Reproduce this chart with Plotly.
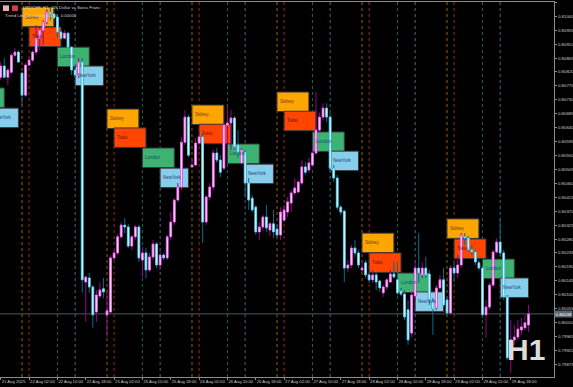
import plotly.graph_objects as go
import pandas as pd

# ---------------- data ----------------
day_spans = [("2025-08-21", 18), ("2025-08-22", 0), ("2025-08-25", 0), ("2025-08-26", 0),
             ("2025-08-27", 0), ("2025-08-28", 0), ("2025-08-29", 0)]

opens = [
    0.80803, 0.80839, 0.80803, 0.80819, 0.80874, 0.80884, 0.80816, 0.80745, 0.80842, 0.80858,
    0.80884, 0.80929, 0.80955, 0.80981, 0.81013, 0.81007, 0.80997, 0.80949, 0.80929, 0.80945,
    0.80900, 0.80826, 0.80807, 0.80852, 0.80141, 0.80154, 0.80125, 0.80044, 0.80096, 0.80119,
    0.80035, 0.80044, 0.80219, 0.80235, 0.80287, 0.80325, 0.80319, 0.80257, 0.80287, 0.80319,
    0.80212, 0.80235, 0.80180, 0.80222, 0.80264, 0.80196, 0.80228, 0.80219, 0.80287, 0.80335,
    0.80406, 0.80448, 0.80593, 0.80674, 0.80513, 0.80519, 0.80590, 0.80610, 0.80335, 0.80416,
    0.80448, 0.80558, 0.80535, 0.80509, 0.80648, 0.80655, 0.80671, 0.80584, 0.80526, 0.80561,
    0.80461, 0.80412, 0.80383, 0.80303, 0.80319, 0.80351, 0.80309, 0.80329, 0.80312, 0.80293,
    0.80341, 0.80367, 0.80396, 0.80429, 0.80432, 0.80461, 0.80513, 0.80503, 0.80519, 0.80558,
    0.80632, 0.80674, 0.80703, 0.80674, 0.80509, 0.80477, 0.80383, 0.80370, 0.80186, 0.80196,
    0.80251, 0.80235, 0.80180, 0.80203, 0.80164, 0.80148, 0.80164, 0.80144, 0.80106, 0.80125,
    0.80141, 0.80167, 0.80148, 0.80112, 0.80102, 0.80051, 0.79976, 0.80096, 0.80186, 0.80164,
    0.80186, 0.80167, 0.80077, 0.80057, 0.80122, 0.80148, 0.80083, 0.80041, 0.80186, 0.80170,
    0.80196, 0.80287, 0.80283, 0.80245, 0.80238, 0.80203, 0.80186, 0.80035, 0.80060, 0.80131,
    0.80238, 0.80270, 0.80235, 0.80093, 0.79896, 0.79954, 0.79963, 0.79986, 0.79993, 0.80002,
]
highs = [
    0.80852, 0.80865, 0.80832, 0.80881, 0.80897, 0.80890, 0.80819, 0.80849, 0.80865, 0.80890,
    0.80971, 0.80968, 0.80987, 0.81023, 0.81029, 0.81026, 0.81004, 0.80955, 0.80955, 0.80949,
    0.80903, 0.80845, 0.80865, 0.80865, 0.80161, 0.80170, 0.80131, 0.80115, 0.80141, 0.80154,
    0.80106, 0.80228, 0.80245, 0.80296, 0.80335, 0.80348, 0.80329, 0.80293, 0.80325, 0.80325,
    0.80254, 0.80251, 0.80235, 0.80277, 0.80270, 0.80245, 0.80235, 0.80293, 0.80367, 0.80412,
    0.80461, 0.80610, 0.80697, 0.80681, 0.80535, 0.80606, 0.80616, 0.80622, 0.80422, 0.80461,
    0.80568, 0.80574, 0.80551, 0.80655, 0.80713, 0.80697, 0.80677, 0.80632, 0.80574, 0.80568,
    0.80477, 0.80422, 0.80390, 0.80335, 0.80358, 0.80390, 0.80335, 0.80374, 0.80325, 0.80383,
    0.80390, 0.80416, 0.80438, 0.80477, 0.80471, 0.80535, 0.80529, 0.80542, 0.80584, 0.80755,
    0.80687, 0.80719, 0.80719, 0.80687, 0.80519, 0.80487, 0.80390, 0.80374, 0.80212, 0.80261,
    0.80277, 0.80245, 0.80206, 0.80212, 0.80170, 0.80180, 0.80173, 0.80148, 0.80131, 0.80154,
    0.80180, 0.80206, 0.80206, 0.80122, 0.80115, 0.80083, 0.80109, 0.80206, 0.80299, 0.80206,
    0.80222, 0.80180, 0.80089, 0.80131, 0.80164, 0.80186, 0.80089, 0.80196, 0.80206, 0.80228,
    0.80299, 0.80299, 0.80290, 0.80261, 0.80245, 0.80212, 0.80196, 0.80083, 0.80138, 0.80245,
    0.80283, 0.80348, 0.80245, 0.80099, 0.80018, 0.80002, 0.80018, 0.80025, 0.80035, 0.80067,
]
lows = [
    0.80794, 0.80800, 0.80777, 0.80813, 0.80868, 0.80849, 0.80710, 0.80739, 0.80839, 0.80852,
    0.80874, 0.80890, 0.80907, 0.80974, 0.80987, 0.80981, 0.80932, 0.80923, 0.80926, 0.80897,
    0.80810, 0.80800, 0.80800, 0.80106, 0.80012, 0.80106, 0.79993, 0.80012, 0.80089, 0.80089,
    0.79963, 0.80041, 0.80212, 0.80228, 0.80283, 0.80299, 0.80251, 0.80245, 0.80277, 0.80206,
    0.80157, 0.80154, 0.80173, 0.80212, 0.80186, 0.80180, 0.80212, 0.80212, 0.80277, 0.80325,
    0.80400, 0.80438, 0.80584, 0.80545, 0.80509, 0.80516, 0.80584, 0.80267, 0.80325, 0.80406,
    0.80438, 0.80526, 0.80480, 0.80503, 0.80584, 0.80568, 0.80568, 0.80542, 0.80519, 0.80416,
    0.80374, 0.80367, 0.80293, 0.80277, 0.80309, 0.80303, 0.80290, 0.80283, 0.80287, 0.80277,
    0.80335, 0.80351, 0.80367, 0.80422, 0.80429, 0.80454, 0.80487, 0.80493, 0.80516, 0.80551,
    0.80626, 0.80664, 0.80658, 0.80496, 0.80464, 0.80374, 0.80358, 0.80141, 0.80173, 0.80186,
    0.80222, 0.80186, 0.80173, 0.80154, 0.80138, 0.80138, 0.80115, 0.80109, 0.80093, 0.80115,
    0.80138, 0.80154, 0.80099, 0.80096, 0.80018, 0.79938, 0.79963, 0.80083, 0.80138, 0.80154,
    0.80154, 0.80067, 0.79970, 0.80051, 0.80115, 0.80060, 0.80035, 0.80035, 0.80141, 0.80154,
    0.80186, 0.80261, 0.80238, 0.80228, 0.80196, 0.80180, 0.80025, 0.79960, 0.80051, 0.80125,
    0.80232, 0.80225, 0.80083, 0.79889, 0.79847, 0.79938, 0.79954, 0.79970, 0.79986, 0.79980,
]
closes = [
    0.80839, 0.80803, 0.80826, 0.80874, 0.80884, 0.80852, 0.80745, 0.80842, 0.80858, 0.80884,
    0.80929, 0.80955, 0.80981, 0.81013, 0.81007, 0.80994, 0.80949, 0.80929, 0.80945, 0.80900,
    0.80826, 0.80810, 0.80852, 0.80148, 0.80157, 0.80125, 0.80035, 0.80099, 0.80115, 0.80109,
    0.80048, 0.80219, 0.80235, 0.80287, 0.80325, 0.80319, 0.80257, 0.80287, 0.80319, 0.80219,
    0.80235, 0.80180, 0.80222, 0.80264, 0.80196, 0.80228, 0.80219, 0.80287, 0.80335, 0.80406,
    0.80448, 0.80593, 0.80674, 0.80551, 0.80519, 0.80590, 0.80610, 0.80335, 0.80416, 0.80448,
    0.80558, 0.80535, 0.80496, 0.80648, 0.80655, 0.80671, 0.80577, 0.80558, 0.80568, 0.80461,
    0.80406, 0.80374, 0.80303, 0.80319, 0.80351, 0.80316, 0.80329, 0.80303, 0.80293, 0.80367,
    0.80374, 0.80400, 0.80429, 0.80445, 0.80464, 0.80513, 0.80496, 0.80526, 0.80558, 0.80632,
    0.80674, 0.80703, 0.80674, 0.80509, 0.80477, 0.80383, 0.80367, 0.80186, 0.80196, 0.80251,
    0.80235, 0.80196, 0.80186, 0.80164, 0.80148, 0.80164, 0.80141, 0.80122, 0.80125, 0.80148,
    0.80167, 0.80157, 0.80106, 0.80102, 0.80028, 0.79954, 0.80099, 0.80186, 0.80170, 0.80186,
    0.80164, 0.80083, 0.80054, 0.80122, 0.80148, 0.80067, 0.80041, 0.80186, 0.80170, 0.80196,
    0.80293, 0.80283, 0.80245, 0.80238, 0.80206, 0.80186, 0.80035, 0.80060, 0.80131, 0.80238,
    0.80270, 0.80235, 0.80093, 0.79896, 0.79954, 0.79963, 0.79989, 0.79996, 0.80009, 0.80038,
]

# session boxes (price of the top edge of each label box, per trading day)
box_days = ["2025-08-21", "2025-08-22", "2025-08-25", "2025-08-26", "2025-08-27", "2025-08-28", "2025-08-29"]
sidney_top = [None, 0.81029, 0.80700, 0.80713, 0.80755, 0.80299, 0.80345]
tokio_top = [None, 0.80965, 0.80639, 0.80651, 0.80693, 0.80235, 0.80280]
london_top = [0.80768, 0.80900, 0.80574, 0.80587, 0.80626, 0.80170, 0.80215]
newyork_top = [0.80703, 0.80839, 0.80509, 0.80522, 0.80564, 0.80109, 0.80154]
box_depth = 0.00063

session_names = ["Sidney", "Tokio", "London", "NewYork"]
session_start_hour = [0, 2, 10, 15]
session_hours = [9, 9, 9, 8]

price_ticks = [0.79875, 0.79920, 0.79965, 0.80010, 0.80055, 0.80100, 0.80145, 0.80190, 0.80235,
               0.80280, 0.80325, 0.80370, 0.80415, 0.80460, 0.80505, 0.80550, 0.80595, 0.80640,
               0.80685, 0.80730, 0.80775, 0.80820, 0.80865, 0.80910, 0.80955, 0.81000, 0.81045]

symbol_title = "USDCHF, H1:  US Dollar vs Swiss Franc"
indicator_title = "Trend Line(Breakout) v1.00   0.00000"
timeframe = "H1"

# ---------------- build ----------------
X_RANGE = [-0.21, 156.2]
Y_RANGE = [0.79834, 0.81046]

times = []
for d, h0 in day_spans:
    for h in range(h0, 24):
        times.append(pd.Timestamp(d) + pd.Timedelta(hours=h))
idx = list(range(len(times)))

day_zero = {}
for d, h0 in day_spans:
    first = times.index(pd.Timestamp(d) + pd.Timedelta(hours=h0))
    day_zero[d] = first - h0

tick_idx, tick_txt = [], []
for i, t in enumerate(times):
    if i == 0:
        tick_idx.append(i); tick_txt.append(t.strftime("%d Aug %Y"))
    elif t.hour in (2, 10, 18):
        tick_idx.append(i); tick_txt.append(t.strftime("%d Aug %H:%M"))

fig = go.Figure()

FONT = "Liberation Sans"
box_fill = ["#FFA500", "#FF4500", "#3CB371", "#87CEEB"]
box_text = ["#6b3a10", "#6a1030", "#154a6a", "#1c3f7a"]
line_col = ["rgba(200,130,20,0.75)", "rgba(200,60,20,0.75)", "rgba(46,139,87,0.75)", "rgba(95,143,160,0.75)"]
tops = [sidney_top, tokio_top, london_top, newyork_top]

shapes = []
annotations = []
for di, d in enumerate(box_days):
    z = day_zero[d]
    for s in range(4):
        top = tops[s][di]
        if top is None:
            continue
        x0 = z + session_start_hour[s]
        x1 = x0 + session_hours[s]
        shapes.append(dict(type="line", xref="x", yref="paper", x0=x0, x1=x0, y0=0, y1=1,
                           line=dict(color=line_col[s], width=1, dash="dot"), layer="below"))
        shapes.append(dict(type="rect", xref="x", yref="y", x0=x0, x1=x1, y0=top - box_depth, y1=top,
                           fillcolor=box_fill[s], line=dict(color="#3a3a3a", width=1), layer="below"))
        lx = x0 + 0.3
        if x1 - X_RANGE[0] < 3:
            continue  # box label lies entirely left of the visible area
        if lx >= X_RANGE[0]:
            ax = dict(x=lx, xref="x")
        else:  # label of a box that starts left of the visible range: place in paper coords
            ax = dict(x=(lx - X_RANGE[0]) / (X_RANGE[1] - X_RANGE[0]), xref="paper")
        annotations.append(dict(**ax, y=top - box_depth / 2, yref="y",
                                text=session_names[s], showarrow=False, xanchor="left",
                                yanchor="middle", font=dict(family=FONT, size=4.5, color=box_text[s])))

# current price line
shapes.append(dict(type="line", xref="paper", yref="y", x0=0, x1=1, y0=closes[-1], y1=closes[-1],
                   line=dict(color="#4e5862", width=1), layer="below"))

# candles: wick layer (dark) then body layer (bright)
fig.add_trace(go.Candlestick(
    x=idx, open=opens, high=highs, low=lows, close=closes,
    increasing=dict(line=dict(color="#8a0a8a", width=1), fillcolor="#8a0a8a"),
    decreasing=dict(line=dict(color="#0a6a88", width=1), fillcolor="#0a6a88"),
    showlegend=False, hoverinfo="skip"))
body_hi = [max(o, c) for o, c in zip(opens, closes)]
body_lo = [min(o, c) for o, c in zip(opens, closes)]
fig.add_trace(go.Candlestick(
    x=idx, open=opens, high=body_hi, low=body_lo, close=closes,
    increasing=dict(line=dict(color="#f070f0", width=0.8), fillcolor="#ffe4ff"),
    decreasing=dict(line=dict(color="#60d0f0", width=0.8), fillcolor="#f0fcff"),
    showlegend=False, hoverinfo="skip"))

# headers
annotations.append(dict(x=21 / 554, y=0.985, xref="paper", yref="paper", text=symbol_title,
                        showarrow=False, xanchor="left", yanchor="middle",
                        font=dict(family=FONT, size=4.3, color="#d0d0d0")))
annotations.append(dict(x=3 / 554, y=0.963, xref="paper", yref="paper", text=indicator_title,
                        showarrow=False, xanchor="left", yanchor="middle",
                        font=dict(family=FONT, size=4.3, color="#d0d0d0")))
shapes.append(dict(type="rect", xref="paper", yref="paper", x0=3 / 554, x1=9 / 554, y0=0.976, y1=0.991,
                   fillcolor="#e8b0b0", line=dict(width=0)))
shapes.append(dict(type="rect", xref="paper", yref="paper", x0=12 / 554, x1=18 / 554, y0=0.976, y1=0.991,
                   fillcolor="#d04040", line=dict(width=0)))
# timeframe watermark
annotations.append(dict(x=0.988, y=0.025, xref="paper", yref="paper", text="<b>" + timeframe + "</b>",
                        showarrow=False, xanchor="right", yanchor="bottom",
                        font=dict(family=FONT, size=30, color="#dcdcdc")))
# current price tag
annotations.append(dict(x=1.0, y=closes[-1], xref="paper", yref="y", text="%.5f" % closes[-1],
                        showarrow=False, xanchor="left", yanchor="middle", bgcolor="#5a6570",
                        borderpad=0.5, font=dict(family=FONT, size=4.4, color="#ffffff")))

fig.update_layout(
    width=573, height=387,
    margin=dict(l=0, r=19, t=2, b=10, autoexpand=False),
    paper_bgcolor="#000000", plot_bgcolor="#000000",
    shapes=shapes, annotations=annotations,
    xaxis=dict(range=X_RANGE, showgrid=False, zeroline=False, rangeslider=dict(visible=False),
               tickvals=tick_idx, ticktext=tick_txt, ticks="outside", ticklen=2, tickcolor="#8a8a8a",
               tickangle=0, automargin=False,
               ticklabelposition="outside right",
               tickfont=dict(family=FONT, size=4.2, color="#c8c8c8"),
               showline=True, linecolor="#8a8a8a", linewidth=1, mirror=True),
    yaxis=dict(range=Y_RANGE, side="right", showgrid=False, zeroline=False, automargin=False,
               tickvals=price_ticks, tickformat=".5f", ticks="outside", ticklen=2, tickcolor="#8a8a8a",
               tickfont=dict(family=FONT, size=4.4, color="#c8c8c8"),
               showline=True, linecolor="#8a8a8a", linewidth=1),
)

fig.write_html("out.html")
